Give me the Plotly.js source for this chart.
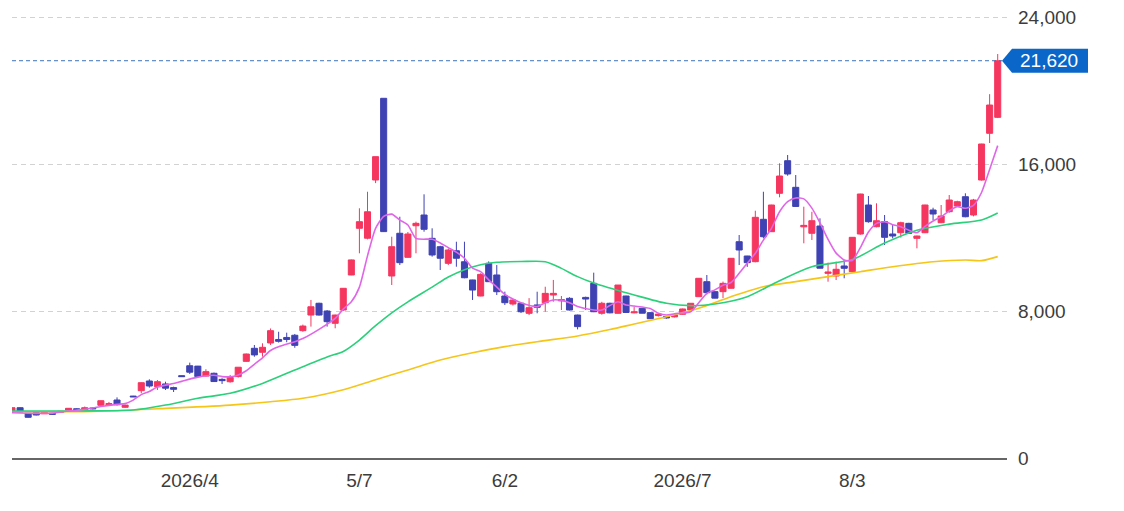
<!DOCTYPE html>
<html>
<head>
<meta charset="utf-8">
<script src="https://cdn.plot.ly/plotly-3.0.1.min.js"></script>
<style>
html,body{margin:0;padding:0;background:#fff;}
#chart{width:1124px;height:511px;}
</style>
</head>
<body>
<div id="chart"></div>
<script>
// ---- Data ----
const openP = [2574,2737,2432,2465,2411,2430,2480,2612,2680,2612,2720,2868,2900,3156,2760,3370,3663,4190,3880,4030,
  3830,4480,5020,5000,4460,4610,4280,4150,4430,5260,5970,5752,6260,6450,6560,6680,6930,7780,8420,8000,
  7330,8054,9960,12500,11960,15130,19575,9905,12230,10920,12640,13224,11955,11500,10594,11280,10680,9690,8816,10594,
  9960,8816,8381,8420,7875,8330,8450,8870,8550,8690,7780,8740,9505,7875,8420,7875,8816,7900,8146,7910,
  7750,7700,7680,7820,8054,8780,9595,9052,9052,9236,11771,10993,10684,12990,12316,14405,16180,14731,12580,12228,
  12625,10050,9905,10450,10140,12190,13768,12587,12860,12190,12260,12770,11955,12260,13496,12805,13404,13714,14220,13224,
  15128,17670,18540];
const highP = [2760,2760,2450,2480,2500,2450,2560,2720,2700,2800,2740,3130,3050,3300,2900,3380,4120,4283,4245,4153,
  3880,4490,5190,5010,4830,4650,4340,4520,4940,5680,6150,6242,7050,6870,6820,6750,7260,8600,8450,8050,
  7800,9250,10800,13590,14490,16400,19575,12043,13130,12300,12860,14350,12500,11550,11400,11770,11770,9700,10050,10700,
  10500,9052,8650,8450,8700,9050,9320,9690,8816,8750,7800,8780,10086,8500,8450,9414,8830,8234,8170,7930,
  7840,7720,7800,8130,8430,9790,9959,9070,9600,10880,12135,11000,13458,14490,13780,16036,16489,15400,13676,13400,
  13044,10630,10684,10775,12020,14380,14258,13860,13224,12680,12860,12800,12100,13780,13620,13768,14312,14000,14405,14100,
  17100,19800,21985];
const lowP = [2550,2480,2200,2320,2400,2360,2460,2600,2620,2600,2650,2860,2830,2860,2720,3320,3520,3826,3700,3700,
  3590,4420,4570,4420,4440,4150,4030,4100,4380,5240,5510,5513,6150,6280,6300,6000,6870,7150,7750,7150,
  7060,8000,9950,11140,11900,14960,12300,9415,10500,10900,11140,12316,10955,10230,10500,10410,9780,8600,8800,9590,
  8870,8327,8300,7890,7780,7875,7960,8505,8054,8030,7000,8054,7940,7800,7875,7860,7910,7875,7875,7565,
  7700,7580,7650,7800,8040,8760,8900,8690,8700,9220,10500,10400,10650,11955,12300,14187,15363,13676,11684,11864,
  10324,9595,9687,9780,10100,12150,12805,12555,11592,11955,12000,12200,11411,12240,12950,12780,13350,13680,13100,13150,
  15100,17142,18500];
const closeP = [2737,2503,2215,2340,2487,2380,2540,2705,2640,2737,2680,3118,2960,2900,2880,3330,4098,3918,4153,3800,
  3740,4430,4670,4430,4700,4160,4210,4390,4940,5660,5610,6024,6930,6350,6450,6130,7180,8230,7780,7420,
  7780,9235,10780,12860,13400,16400,12320,11500,10630,12190,12770,12446,11047,10870,11319,10870,9810,9140,9995,9595,
  9050,8452,8598,7960,8180,8200,8960,8960,8620,8054,7150,8650,7960,8420,7900,9414,7920,7950,7880,7580,
  7830,7620,7780,8110,8420,9780,8997,8700,9505,10868,11319,10630,13098,12043,13768,15346,15455,13690,12660,12914,
  10330,10120,10270,10324,12010,14367,12860,12914,12010,12081,12805,12228,12081,13768,13279,13169,14040,13948,13131,14040,
  17088,19210,21620];

// moving-average lines at these candle positions
const ma5X = [0,3,5,7,9,11,13,14,15,16,17,18,20,21,23,25,26,27,28,29,30,31,32,33,35,36,38,40,41,42,43,44,45,46,47,48,49,50,52,53,54,55,56,57,58,59,60,61,62,63,65,66,67,68,69,70,72,73,74,75,76,77,79,80,81,82,84,85,86,87,88,89,90,91,92,93,94,95,96,97,98,99,100,101,102,103,104,105,106,107,108,109,110,111,112,113,114,115,116,117,118,119,120,121,122];
const ma5Y = [2460,2430,2440,2560,2650,2800,2920,2960,3150,3450,3620,3860,4050,4170,4400,4500,4430,4420,4520,4750,5100,5450,5850,6050,6330,6500,7000,7600,8100,8500,9300,11000,12500,13150,13270,12950,12680,11950,11900,11700,11450,11200,10870,10330,10140,9690,9300,8900,8650,8450,8240,8450,8600,8580,8450,8250,8054,8050,8300,8500,8330,8270,8140,7880,7780,7850,7960,8450,8960,9150,9400,9550,10050,10600,11140,11860,12500,13400,13950,14150,14100,13600,12800,11900,11150,10780,10750,11450,12300,12770,12860,12700,12590,12400,12260,12600,12900,13130,13450,13680,13590,13750,14450,15700,17000];
const ma25X = [0,8,15,19,23,27,31,35,39,41,43,45,47,49,52,54,56,58,60,63,66,68,70,72,74,77,81,84,87,91,95,99,104,108,112,116,120,122];
const ma25Y = [2560,2560,2610,2880,3250,3520,4060,4790,5500,5800,6420,7200,7900,8500,9300,9850,10250,10520,10650,10690,10680,10320,9870,9520,9250,8870,8420,8290,8380,8780,9650,10410,10800,11700,12400,12730,12950,13330];
const ma75X = [0,10,19,27,32,36,41,45,49,53,57,61,65,70,74,77,81,85,89,93,97,101,105,109,114,118,120,122];
const ma75Y = [2520,2540,2700,2880,3060,3250,3720,4260,4790,5330,5730,6060,6330,6640,6990,7290,7690,8150,8780,9320,9600,9870,10140,10410,10680,10775,10740,10960];

const tickIdx = [22,43,61,83,104];
const tickLabels = ['2026/4','5/7','6/2','2026/7','8/3'];
const yTicks = [0,8000,16000,24000];
const lastPrice = 21620;

// ---- Styling ----
const RED = '#f5365f';
const BLUE = '#3f42b3';
const xIdx = closeP.map((_, i) => i);

const W = 1124, H = 511;
const M = {l:12, r:117, t:14, b:53};
const plotW = W - M.l - M.r;
const plotH = H - M.t - M.b;
const yTop = 24000 + (17 - M.t) * 24000 / 441;
const unitsPerPx = yTop / plotH;
const px2paper = p => (p - M.l) / plotW;

const traces = [
  {
    type:'candlestick', x:xIdx, open:openP, high:highP, low:lowP, close:closeP,
    increasing:{line:{color:RED, width:1}, fillcolor:RED},
    decreasing:{line:{color:BLUE, width:1}, fillcolor:BLUE},
    whiskerwidth:0, hoverinfo:'skip', showlegend:false
  },
  {type:'scatter', mode:'lines', x:ma75X, y:ma75Y, line:{color:'#f5c518', width:1.6, shape:'spline', smoothing:0.8}, hoverinfo:'skip', showlegend:false},
  {type:'scatter', mode:'lines', x:ma25X, y:ma25Y, line:{color:'#2bd07a', width:1.6, shape:'spline', smoothing:0.8}, hoverinfo:'skip', showlegend:false},
  {type:'scatter', mode:'lines', x:ma5X, y:ma5Y, line:{color:'#e066e8', width:1.6, shape:'spline', smoothing:0.6}, hoverinfo:'skip', showlegend:false}
];

const halfBox = 12 * unitsPerPx;
const tipX = px2paper(1002), boxL = px2paper(1012), boxR = px2paper(1088);
const labelPath = `M ${tipX},${lastPrice} L ${boxL},${lastPrice + halfBox} L ${boxR},${lastPrice + halfBox} L ${boxR},${lastPrice - halfBox} L ${boxL},${lastPrice - halfBox} Z`;

const FONT = 'Liberation Sans, Arial, Helvetica, sans-serif';

const layout = {
  width:W, height:H,
  margin:M,
  paper_bgcolor:'#ffffff', plot_bgcolor:'#ffffff',
  showlegend:false,
  boxgap:0.25, boxgroupgap:0,
  font:{family:FONT, size:19, color:'#3c3c3c'},
  xaxis:{
    type:'linear', range:[0, 123.15],
    tickvals:tickIdx, ticktext:tickLabels,
    showgrid:false, zeroline:false,
    showline:true, linecolor:'#666', linewidth:2,
    ticks:'', ticklabelstandoff:4,
    tickfont:{family:FONT, size:19, color:'#3c3c3c'},
    rangeslider:{visible:false}, fixedrange:true
  },
  yaxis:{
    side:'right', range:[0, yTop],
    tickvals:yTicks, tickformat:',d',
    showgrid:true, gridcolor:'#d2d2d2', gridwidth:1, griddash:'5px,4px',
    zeroline:false, showline:false, ticks:'', ticklabelstandoff:10,
    tickfont:{family:FONT, size:19, color:'#3c3c3c'},
    fixedrange:true
  },
  shapes:[
    {type:'line', xref:'paper', yref:'y', x0:0, x1:tipX, y0:lastPrice, y1:lastPrice,
     line:{color:'#3e73b9', width:1, dash:'4px,3px'}},
    {type:'path', xref:'paper', yref:'y', path:labelPath, fillcolor:'#0a66c8', line:{width:0}}
  ],
  annotations:[
    {xref:'paper', yref:'y', x:px2paper(1049), y:lastPrice, text:lastPrice.toLocaleString('en-US'),
     showarrow:false, xanchor:'center', yanchor:'middle',
     font:{family:FONT, size:19, color:'#ffffff'}}
  ]
};

Plotly.newPlot('chart', traces, layout, {displayModeBar:false, staticPlot:true});
</script>
</body>
</html>
